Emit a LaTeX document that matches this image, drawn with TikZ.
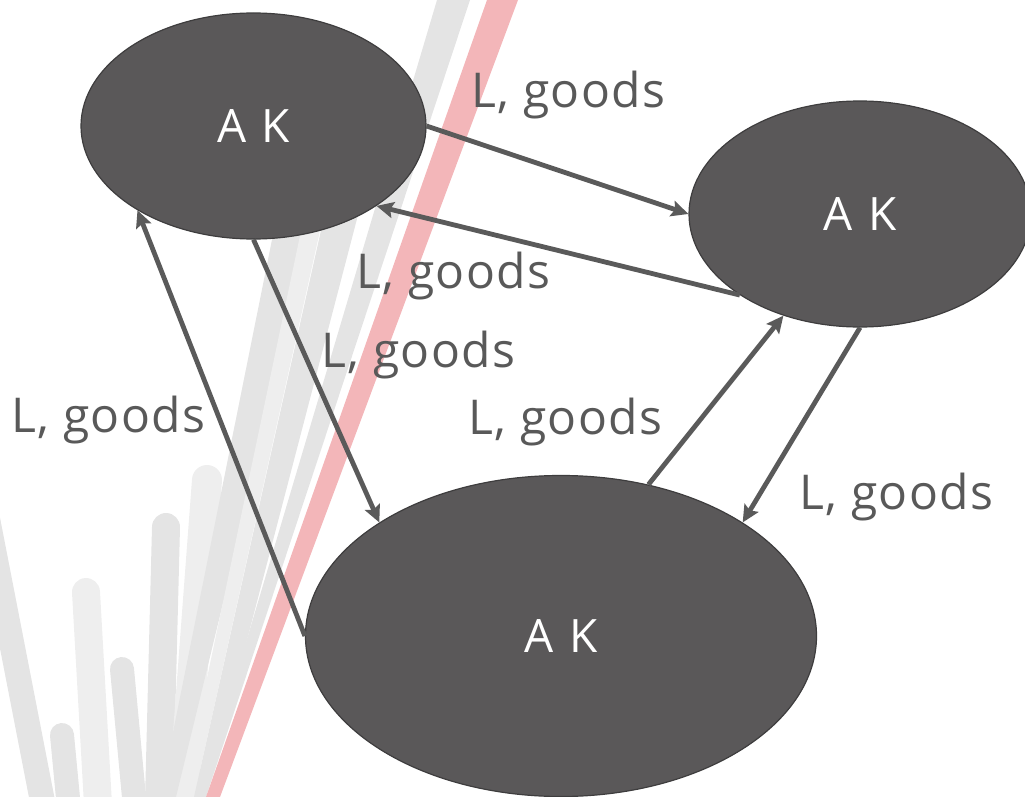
\documentclass[tikz,border=0pt]{standalone}
\usepackage{fontspec}
\setmainfont{Open Sans}
\usetikzlibrary{arrows.meta,shapes.geometric}
\definecolor{nodefill}{HTML}{5A5859}
\definecolor{nodeedge}{HTML}{3E3D3E}
\definecolor{flow}{HTML}{5A5A5A}
\definecolor{labelgray}{HTML}{595959}
\definecolor{streakred}{HTML}{F3B6B9}
\definecolor{streakA}{HTML}{E4E4E4}
\definecolor{streakB}{HTML}{EEEEEE}
\begin{document}
\begin{tikzpicture}[x=1pt,y=-1pt,
  agent/.style={ellipse, fill=nodefill, draw=nodeedge, line width=1.2pt,
    inner sep=0pt, text=white,
    font=\fontsize{46}{50}\selectfont\addfontfeature{LetterSpace=8}},
  flowarrow/.style={draw=flow, line width=4.8pt,
    -{Stealth[length=17pt,width=16pt,inset=3pt]}},
  flowlabel/.style={anchor=base west, inner sep=0pt, text=labelgray,
    font=\fontsize{48}{52}\selectfont\addfontfeature{LetterSpace=3}},
  streak/.style={line cap=round, line width=#1}]
\useasboundingbox (0,0) rectangle (1025,797);

% decorative fan of streaks behind the diagram
\begin{scope}
  \clip (0,0) rectangle (1025,797);
  % short rounded bars at the lower left
  \draw[streak=25pt, streakA] (50,840) -- (-22,470);
  \draw[streak=24pt, streakA] (72,840) -- (62,735);
  \draw[streak=28pt, streakB] (100,840) -- (86,592);
  \draw[streak=24pt, streakA] (138,840) -- (122,669);
  \draw[streak=28pt, streakA] (158,840) -- (166,527);
  \draw[streak=30pt, streakB] (180,840) -- (207,480);
  % long tapered bands reaching up behind the nodes
  \fill[streakA] (160,797) -- (176,797) -- (333,150) -- (290,150) -- cycle;
  \fill[streakB] (182,797) -- (194,797) -- (338,150) -- (318,150) -- cycle;
  \fill[streakA] (194,797) -- (206,797) -- (375,150) -- (339,150) -- cycle;
  \fill[streakA] (200,797) -- (206,797) -- (470,0) -- (437,0) -- cycle;
  % red streak
  \fill[streakred] (206,797) -- (220,797) -- (518,0) -- (487,0) -- cycle;
\end{scope}

% agents
\node[agent, minimum width=345pt, minimum height=226pt] (e1) at (253.5,126) {A K};
\node[agent, minimum width=342pt, minimum height=226pt] (e2) at (860,214) {A K};
\node[agent, minimum width=511pt, minimum height=321pt] (e3) at (561,636) {A K};

% flows between agents
\draw[flowarrow] (e1.east) -- (e2.west);
\draw[flowarrow] (e2.214) -- (e1.-33);
\draw[flowarrow] (e1.south) -- (e3.148);
\draw[flowarrow] (e3.west) -- (e1.216);
\draw[flowarrow] (e3.60) -- (e2.233);
\draw[flowarrow] (e2.south) -- (e3.32);

% flow labels
\node[flowlabel] (l1) at (471,108) {L, goods};
\node[flowlabel] (l2) at (356,288) {L, goods};
\node[flowlabel] (l3) at (321,367) {L, goods};
\node[flowlabel] (l4) at (11,432) {L, goods};
\node[flowlabel] (l5) at (468,434) {L, goods};
\node[flowlabel] (l6) at (799,509) {L, goods};
\end{tikzpicture}
\end{document}
